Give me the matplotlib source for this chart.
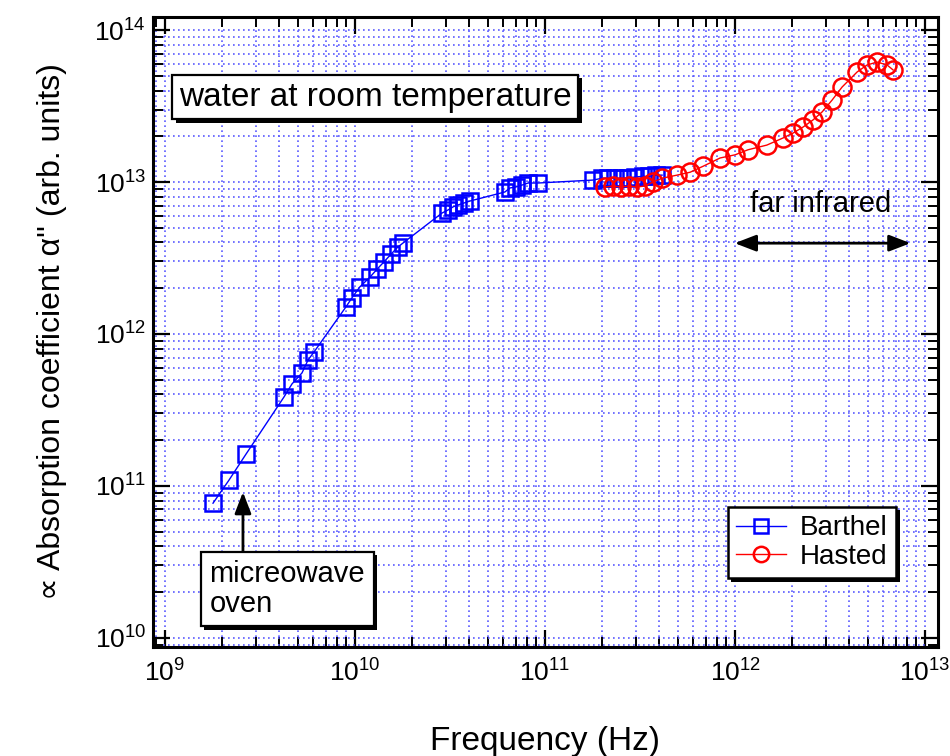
import matplotlib
matplotlib.use("Agg")
import matplotlib.pyplot as plt
import matplotlib.patheffects as pe
from matplotlib.ticker import LogLocator, NullFormatter, FixedLocator, FixedFormatter
from matplotlib import font_manager

# ---------------- data ----------------
barthel_freq = [1.79e9, 2.17e9, 2.67e9, 4.23e9, 4.66e9, 5.26e9, 5.66e9, 6.09e9,
                8.97e9, 9.64e9, 1.06e10, 1.20e10, 1.31e10, 1.42e10, 1.55e10, 1.68e10, 1.79e10,
                2.87e10, 3.09e10, 3.28e10, 3.49e10, 3.75e10, 4.03e10,
                6.15e10, 6.54e10, 7.03e10, 7.57e10, 8.14e10, 9.19e10,
                1.79e11, 2.00e11, 2.15e11, 2.34e11, 2.54e11, 2.73e11, 2.98e11, 3.28e11,
                3.53e11, 3.84e11, 4.13e11]
barthel_alpha = [7.7e10, 1.09e11, 1.62e11, 3.85e11, 4.69e11, 5.54e11, 6.74e11, 7.62e11,
                 1.51e12, 1.73e12, 2.04e12, 2.37e12, 2.68e12, 2.98e12, 3.36e12, 3.73e12, 3.97e12,
                 6.25e12, 6.55e12, 6.86e12, 7.07e12, 7.28e12, 7.5e12,
                 8.6e12, 9.14e12, 9.28e12, 9.55e12, 9.85e12, 9.85e12,
                 1.03e13, 1.06e13, 1.06e13, 1.06e13, 1.06e13, 1.06e13, 1.08e13, 1.09e13,
                 1.09e13, 1.11e13, 1.11e13]

hasted_freq = [2.07e11, 2.28e11, 2.51e11, 2.77e11, 3.05e11, 3.36e11, 3.70e11, 4.13e11,
               4.95e11, 5.8e11, 6.79e11, 8.35e11, 1.0e12, 1.17e12, 1.47e12, 1.79e12,
               2.02e12, 2.28e12, 2.57e12, 2.87e12, 3.24e12, 3.66e12, 4.39e12, 4.95e12,
               5.59e12, 6.31e12, 6.79e12]
hasted_alpha = [9.27e12, 9.42e12, 9.27e12, 9.42e12, 9.27e12, 9.42e12, 1.0e13, 1.06e13,
                1.11e13, 1.16e13, 1.27e13, 1.44e13, 1.51e13, 1.63e13, 1.75e13, 1.95e13,
                2.1e13, 2.3e13, 2.56e13, 2.89e13, 3.46e13, 4.22e13, 5.3e13, 5.89e13,
                6.16e13, 5.89e13, 5.46e13]

x_ticks = [1e9, 1e10, 1e11, 1e12, 1e13]
x_tick_labels = [r'$\mathregular{10^{9}}$', r'$\mathregular{10^{10}}$', r'$\mathregular{10^{11}}$',
                 r'$\mathregular{10^{12}}$', r'$\mathregular{10^{13}}$']
y_ticks = [1e10, 1e11, 1e12, 1e13, 1e14]
y_tick_labels = [r'$\mathregular{10^{10}}$', r'$\mathregular{10^{11}}$', r'$\mathregular{10^{12}}$',
                 r'$\mathregular{10^{13}}$', r'$\mathregular{10^{14}}$']

series_labels = ["Barthel", "Hasted"]
x_label = "Frequency (Hz)"
y_label = "\u221d Absorption coefficient \u03b1'' (arb. units)"
title_text = "water at room temperature"
oven_text = "micreowave\noven"
fir_text = "far infrared"

# ---------------- style ----------------
names = {f.name for f in font_manager.fontManager.ttflist}
base = "Liberation Sans" if "Liberation Sans" in names else "DejaVu Sans"
plt.rcParams['font.family'] = [base, 'DejaVu Sans']
plt.rcParams['mathtext.fontset'] = 'custom'
plt.rcParams['mathtext.rm'] = base
plt.rcParams['mathtext.default'] = 'regular'

fig = plt.figure(figsize=(9.5, 7.56), dpi=100)
ax = fig.add_axes([153/950, 1-647/756, (938-153)/950, (647-17)/756])

ax.set_xscale('log')
ax.set_yscale('log')
ax.set_xlim(10**8.937, 10**13.068)
ax.set_ylim(10**9.94, 10**14.086)

ax.plot(barthel_freq, barthel_alpha, color='#0000ff', lw=1.0, marker='s', ms=12,
        mfc='none', mec='#0000ff', mew=1.8, label=series_labels[0], zorder=3)
ax.plot(hasted_freq, hasted_alpha, color='#ff0000', lw=1.0, marker='o', ms=13,
        mfc='none', mec='#ff0000', mew=1.8, label=series_labels[1], zorder=4)

ax.xaxis.set_major_locator(FixedLocator(x_ticks))
ax.xaxis.set_major_formatter(FixedFormatter(x_tick_labels))
ax.yaxis.set_major_locator(FixedLocator(y_ticks))
ax.yaxis.set_major_formatter(FixedFormatter(y_tick_labels))
ax.xaxis.set_minor_locator(LogLocator(base=10, subs=range(2, 10), numticks=50))
ax.yaxis.set_minor_locator(LogLocator(base=10, subs=range(2, 10), numticks=50))
ax.xaxis.set_minor_formatter(NullFormatter())
ax.yaxis.set_minor_formatter(NullFormatter())

ax.tick_params(which='both', direction='in', top=True, right=True, colors='black')
ax.tick_params(which='major', length=12, width=1.6, labelsize=19)
ax.tick_params(which='minor', length=7, width=1.4)
ax.tick_params(axis='x', which='major', pad=9)
ax.tick_params(axis='y', which='major', pad=5)
for s in ax.spines.values():
    s.set_linewidth(2.2)

ax.grid(True, which='both', color='#5a5aff', lw=1.2, ls=(0, (1, 2)))
ax.set_axisbelow(True)

ax.set_xlabel(x_label, fontsize=24, labelpad=28)
ax.set_ylabel(y_label, fontsize=23, labelpad=20)

shadow = [pe.SimplePatchShadow(offset=(2.5, -2.5), shadow_rgbFace='black', alpha=1.0), pe.Normal()]

t1 = ax.text(0.283, 0.873, title_text, transform=ax.transAxes, fontsize=24,
             ha='center', va='center', zorder=6,
             bbox=dict(boxstyle='square,pad=0.2', fc='white', ec='black', lw=1.6))
t1.get_bbox_patch().set_path_effects(shadow)

t2 = ax.text(0.072, 0.092, oven_text, transform=ax.transAxes, fontsize=21,
             ha='left', va='center', linespacing=1.05, zorder=6,
             bbox=dict(boxstyle='square,pad=0.3', fc='white', ec='black', lw=1.6))
t2.get_bbox_patch().set_path_effects(shadow)

ax.annotate('', xy=(0.1146, 0.246), xytext=(0.1146, 0.150),
            xycoords='axes fraction', textcoords='axes fraction',
            arrowprops=dict(arrowstyle='-|>,head_length=1.3,head_width=0.5', lw=2,
                            color='black', shrinkA=0, shrinkB=0), zorder=5)

ax.text(0.850, 0.703, fir_text, transform=ax.transAxes, fontsize=21,
        ha='center', va='center', zorder=6)
ax.annotate('', xy=(0.741, 0.641), xytext=(0.965, 0.641),
            xycoords='axes fraction', textcoords='axes fraction',
            arrowprops=dict(arrowstyle='<|-|>,head_length=1.3,head_width=0.5', lw=2,
                            color='black', shrinkA=0, shrinkB=0), zorder=5)

leg = ax.legend(loc='upper left', bbox_to_anchor=(728/950, 1-507/756),
                bbox_transform=fig.transFigure, fontsize=20, frameon=True,
                fancybox=False, framealpha=1, edgecolor='black',
                handlelength=1.8, handletextpad=0.5, labelspacing=0.1,
                borderpad=0.3, borderaxespad=0, markerscale=0.85)
leg.get_frame().set_linewidth(1.8)
leg.get_frame().set_path_effects(shadow)
leg.set_zorder(7)

fig.savefig('out.png', dpi=100)
